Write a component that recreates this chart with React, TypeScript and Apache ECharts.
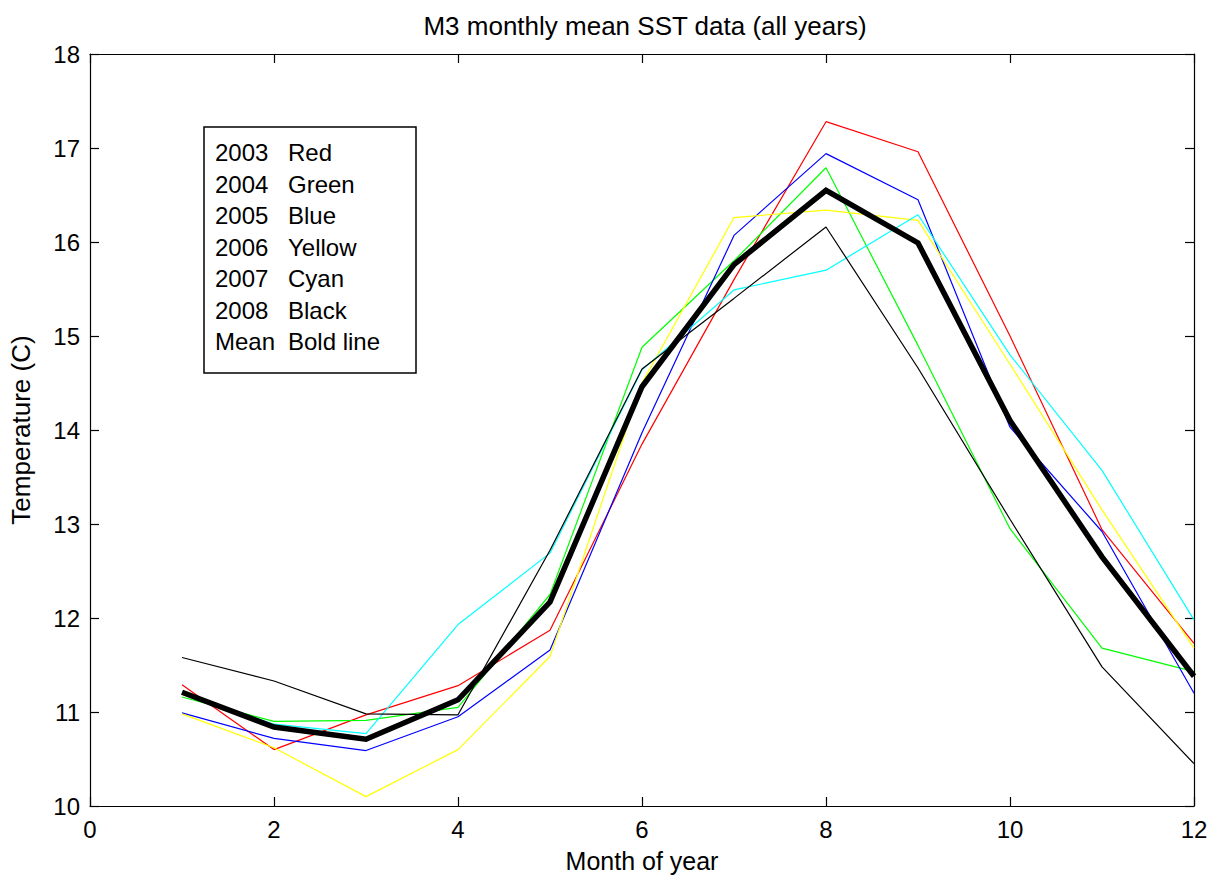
import React, { useEffect, useRef } from "react";
import * as echarts from "echarts";

const months = [1, 2, 3, 4, 5, 6, 7, 8, 9, 10, 11, 12];
const sst2003 = [11.29, 10.6, 10.97, 11.28, 11.87, 13.85, 15.6, 17.28, 16.96, 15.0, 12.94, 11.73];
const sst2004 = [11.16, 10.9, 10.91, 11.05, 12.25, 14.88, 15.8, 16.79, 14.9, 12.95, 11.68, 11.43];
const sst2005 = [10.99, 10.72, 10.59, 10.95, 11.66, 13.97, 16.07, 16.94, 16.45, 14.03, 12.92, 11.2];
const sst2006 = [10.98, 10.62, 10.1, 10.6, 11.59, 14.5, 16.26, 16.34, 16.23, 14.7, 13.15, 11.68];
const sst2007 = [11.2, 10.87, 10.77, 11.93, 12.69, 14.64, 15.49, 15.7, 16.29, 14.8, 13.57, 11.98];
const sst2008 = [11.58, 11.33, 10.98, 10.97, 12.72, 14.65, 15.4, 16.16, 14.66, 13.05, 11.48, 10.45];
const sstMean = [11.21, 10.84, 10.71, 11.13, 12.17, 14.46, 15.76, 16.55, 15.99, 14.1, 12.65, 11.38];

const yearSeries = [
  { name: "2003", values: sst2003, color: "#ff0000" },
  { name: "2004", values: sst2004, color: "#00ff00" },
  { name: "2005", values: sst2005, color: "#0000ff" },
  { name: "2006", values: sst2006, color: "#ffff00" },
  { name: "2007", values: sst2007, color: "#00ffff" },
  { name: "2008", values: sst2008, color: "#000000" },
];

const legendYears = ["2003", "2004", "2005", "2006", "2007", "2008", "Mean"];
const legendNames = ["Red", "Green", "Blue", "Yellow", "Cyan", "Black", "Bold line"];

const FONT = "'Liberation Sans', Arial, sans-serif";

export default function App() {
  const ref = useRef<HTMLDivElement>(null);

  useEffect(() => {
    if (!ref.current) return;
    const chart = echarts.init(ref.current, undefined, { renderer: "svg" });

    const toPts = (vals: number[]) => months.map((m, i) => [m, vals[i]]);

    const series: any[] = yearSeries.map((s) => ({
      name: s.name,
      type: "line",
      data: toPts(s.values),
      showSymbol: false,
      symbol: "none",
      lineStyle: { color: s.color, width: 1.2 },
      itemStyle: { color: s.color },
      xAxisIndex: 0,
      yAxisIndex: 0,
      z: 2,
    }));
    series.push({
      name: "Mean",
      type: "line",
      data: toPts(sstMean),
      showSymbol: false,
      symbol: "none",
      lineStyle: { color: "#000000", width: 5.5, join: "miter" },
      itemStyle: { color: "#000" },
      xAxisIndex: 0,
      yAxisIndex: 0,
      z: 3,
    });

    const axisCommon = {
      axisLine: { show: true, onZero: false, lineStyle: { color: "#000", width: 1.2 } },
      axisTick: { show: true, inside: true, length: 9, lineStyle: { color: "#000", width: 1.2 } },
      splitLine: { show: false },
    };

    const legendTop = 127;
    const rowGap = 31.5;
    const firstRow = 152.5;
    const graphic: any[] = [
      {
        type: "rect",
        shape: { x: 204, y: legendTop, width: 212, height: 246 },
        style: { fill: "#ffffff", stroke: "#000000", lineWidth: 1.5 },
        z: 100,
      },
    ];
    legendYears.forEach((t, i) => {
      graphic.push({
        type: "text",
        x: 215,
        y: firstRow + i * rowGap,
        z: 101,
        style: {
          text: t,
          fontSize: 24,
          fontFamily: FONT,
          fill: "#000",
          textAlign: "left",
          textVerticalAlign: "middle",
        },
      });
      graphic.push({
        type: "text",
        x: 288,
        y: firstRow + i * rowGap,
        z: 101,
        style: {
          text: legendNames[i],
          fontSize: 24,
          fontFamily: FONT,
          fill: "#000",
          textAlign: "left",
          textVerticalAlign: "middle",
        },
      });
    });

    chart.setOption({
      animation: false,
      backgroundColor: "#ffffff",
      title: {
        text: "M3 monthly mean SST data (all years)",
        left: 640,
        textAlign: "center",
        top: 8,
        textStyle: { fontSize: 26, fontWeight: "normal", fontFamily: FONT, color: "#000" },
      },
      grid: { left: 90, right: 28, top: 54, bottom: 76, containLabel: false },
      xAxis: [
        {
          type: "value",
          min: 0,
          max: 12,
          interval: 2,
          position: "bottom",
          name: "Month of year",
          nameLocation: "middle",
          nameGap: 42,
          nameTextStyle: { fontSize: 25, fontFamily: FONT, color: "#000" },
          axisLabel: { fontSize: 24, fontFamily: FONT, color: "#000", margin: 11 },
          ...axisCommon,
        },
        {
          type: "value",
          min: 0,
          max: 12,
          interval: 2,
          position: "top",
          axisLabel: { show: false },
          ...axisCommon,
        },
      ],
      yAxis: [
        {
          type: "value",
          min: 10,
          max: 18,
          interval: 1,
          position: "left",
          name: "Temperature (C)",
          nameLocation: "middle",
          nameGap: 56,
          nameTextStyle: { fontSize: 26, fontFamily: FONT, color: "#000" },
          axisLabel: { fontSize: 24, fontFamily: FONT, color: "#000", margin: 10 },
          ...axisCommon,
        },
        {
          type: "value",
          min: 10,
          max: 18,
          interval: 1,
          position: "right",
          axisLabel: { show: false },
          ...axisCommon,
        },
      ],
      series,
      graphic,
    });

    return () => chart.dispose();
  }, []);

  return (
    <div
      ref={ref}
      style={{ position: "fixed", left: 0, top: 0, width: 1222, height: 882, background: "#fff" }}
    />
  );
}
